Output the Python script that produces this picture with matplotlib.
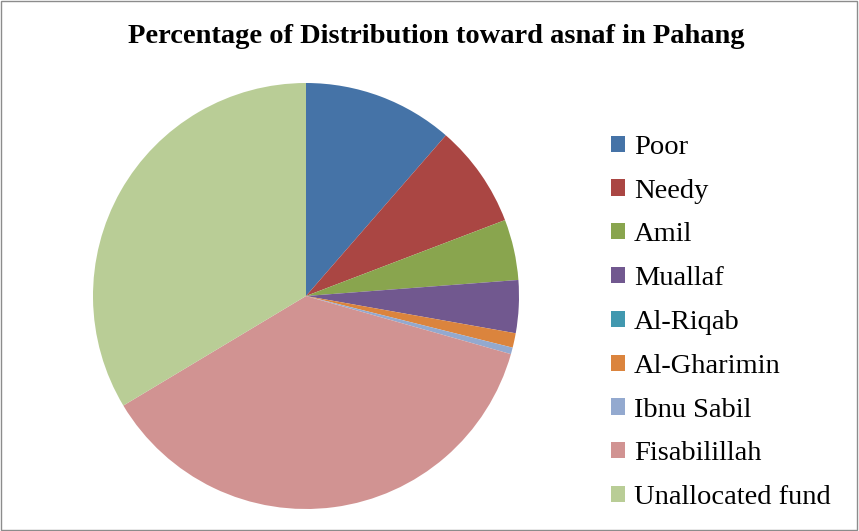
import matplotlib
matplotlib.use("Agg")
import matplotlib.pyplot as plt
from matplotlib.patches import Rectangle

plt.rcParams['font.family'] = ['Liberation Serif', 'DejaVu Serif']

# data (percent)
labels = ["Poor", "Needy", "Amil", "Muallaf", "Al-Riqab", "Al-Gharimin",
          "Ibnu Sabil", "Fisabilillah", "Unallocated fund"]
shares = [11.4, 7.8, 4.6, 4.0, 0.0, 1.1, 0.5, 37.0, 33.6]
colors = ["#4573A7", "#AA4643", "#89A54E", "#71588F", "#4198AF",
          "#DB843D", "#93A9CF", "#D19392", "#B9CD96"]

fig = plt.figure(figsize=(8.59, 5.31), dpi=100)

# pie axes: centre ~(306, 296) px, radius ~213 px
ax = fig.add_axes([93 / 859, 22 / 531, 426 / 859, 426 / 531])
wedges, _ = ax.pie(shares, colors=colors, startangle=90, counterclock=False,
                   radius=1.0, wedgeprops=dict(linewidth=0))
ax.set_xlim(-1, 1)
ax.set_ylim(-1, 1)
ax.set_aspect('equal')
ax.axis('off')

fig.text(0.508, 0.932, "Percentage of Distribution toward asnaf in Pahang",
         ha='center', va='center', fontsize=20.5, fontweight='bold')

leg = fig.legend(wedges, labels, loc='center left',
                 bbox_to_anchor=(611 / 859, 1 - 322.5 / 531), frameon=False,
                 fontsize=20.5, handlelength=0.5, handleheight=0.5,
                 handletextpad=0.3, labelspacing=0.66,
                 borderpad=0, borderaxespad=0)

# thin grey chart border
fig.patches.append(Rectangle((0.001, 0.001), 0.997, 0.997, transform=fig.transFigure,
                             fill=False, edgecolor='#8c8c8c', linewidth=1))

fig.savefig("out.png", dpi=100)
